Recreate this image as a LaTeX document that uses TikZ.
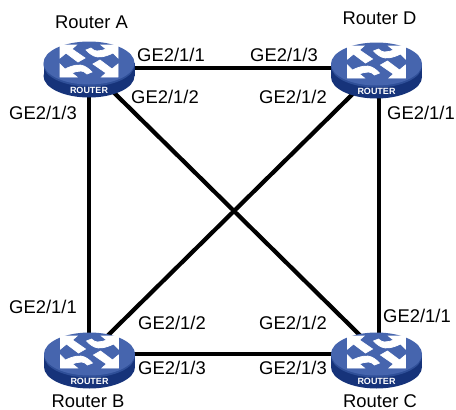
\documentclass[tikz,border=0pt]{standalone}
\usepackage{fontspec}
\setmainfont{Liberation Sans}
\definecolor{faceblue}{HTML}{4665AE}
\definecolor{sideblue}{HTML}{16337A}
\definecolor{sidelight}{HTML}{2F4F98}
\tikzset{
    routernode/.style={inner sep=0pt,minimum size=0pt},
    label/.style={inner sep=0pt,font=\fontsize{18.4}{20}\selectfont,text=black},
    link/.style={line width=4.2pt,black},
    routerarrow/.style={fill=white,draw=white,line width=0.7pt,line join=miter},
    routericon/.pic={
        \fill[sideblue] (0,13) ellipse [x radius=45.5,y radius=21.5];
        \fill[sideblue] (-45.5,0) rectangle (45.5,13);
        \fill[sidelight] (0,2) ellipse [x radius=45.5,y radius=21.5];
        \fill[faceblue] (0,0) ellipse [x radius=45.5,y radius=21.5];
        \begin{scope}[shift={(0,-2)}]
            \foreach \turn in {0,180} {
                \begin{scope}[rotate=\turn]
                    \path[routerarrow] (-29,-16) -- (-12.5,-16) -- (-17,-12) -- (-4,-3) -- (-11,1) -- (-23,-8) -- (-29,-3) -- cycle;
                    \path[routerarrow] (29,-16) -- (29,-3) -- (24,-8) .. controls (16,-4) and (9,-3) .. (5,-5) .. controls (1,-7) and (-1,-9) .. (-3,-11) -- (2,-13) .. controls (4,-11) and (6,-10) .. (8,-10) .. controls (11,-10) and (15,-11) .. (17,-12) -- (12,-16) -- cycle;
                \end{scope}
            }
        \end{scope}
        \node[inner sep=0pt] (-tag) at (0,27.5) {\fontsize{9}{10}\selectfont\bfseries\color{white}ROUTER};
    }
}
\begin{document}
\begin{tikzpicture}[x=1pt,y=-1pt]
    \useasboundingbox (0,0) rectangle (456,410);

    % Define the positions of the nodes
    \node[routernode] (rta) at (89,68) {};
    \node[routernode] (rtb) at (89,354) {};
    \node[routernode] (rtc) at (379,354) {};
    \node[routernode] (rtd) at (379,68) {};

    % Draw the edges
    \draw[link] (rta) -- (rtd);
    \draw[link] (rta) -- (rtb);
    \draw[link] (rta) -- (rtc);
    \draw[link] (rtd) -- (rtb);
    \draw[link] (rtd) -- (rtc);
    \draw[link] (rtb) -- (rtc);

    % Router icons go over the edge ends
    \pic (icona) at (89,63) {routericon};
    \pic (iconb) at (89.5,354) {routericon};
    \pic (iconc) at (376.5,354) {routericon};
    \pic (icond) at (376.5,64) {routericon};

    \node[label] (namea) at (91.5,22) {Router A};
    \node[label] (nameb) at (88,401) {Router B};
    \node[label] (namec) at (380,401) {Router C};
    \node[label] (named) at (379.5,18) {Router D};

    % Port labels
    \node[label] (a1) at (171,55) {GE2/1/1};
    \node[label] (a2) at (165,97) {GE2/1/2};
    \node[label] (a3) at (43,113) {GE2/1/3};
    \node[label] (b1) at (43,307) {GE2/1/1};
    \node[label] (b2) at (172,323) {GE2/1/2};
    \node[label] (b3) at (172,368) {GE2/1/3};
    \node[label] (c1) at (417,316) {GE2/1/1};
    \node[label] (c2) at (293,323) {GE2/1/2};
    \node[label] (c3) at (293,368) {GE2/1/3};
    \node[label] (d1) at (421,113) {GE2/1/1};
    \node[label] (d2) at (293,97) {GE2/1/2};
    \node[label] (d3) at (284,55) {GE2/1/3};
\end{tikzpicture}
\end{document}
